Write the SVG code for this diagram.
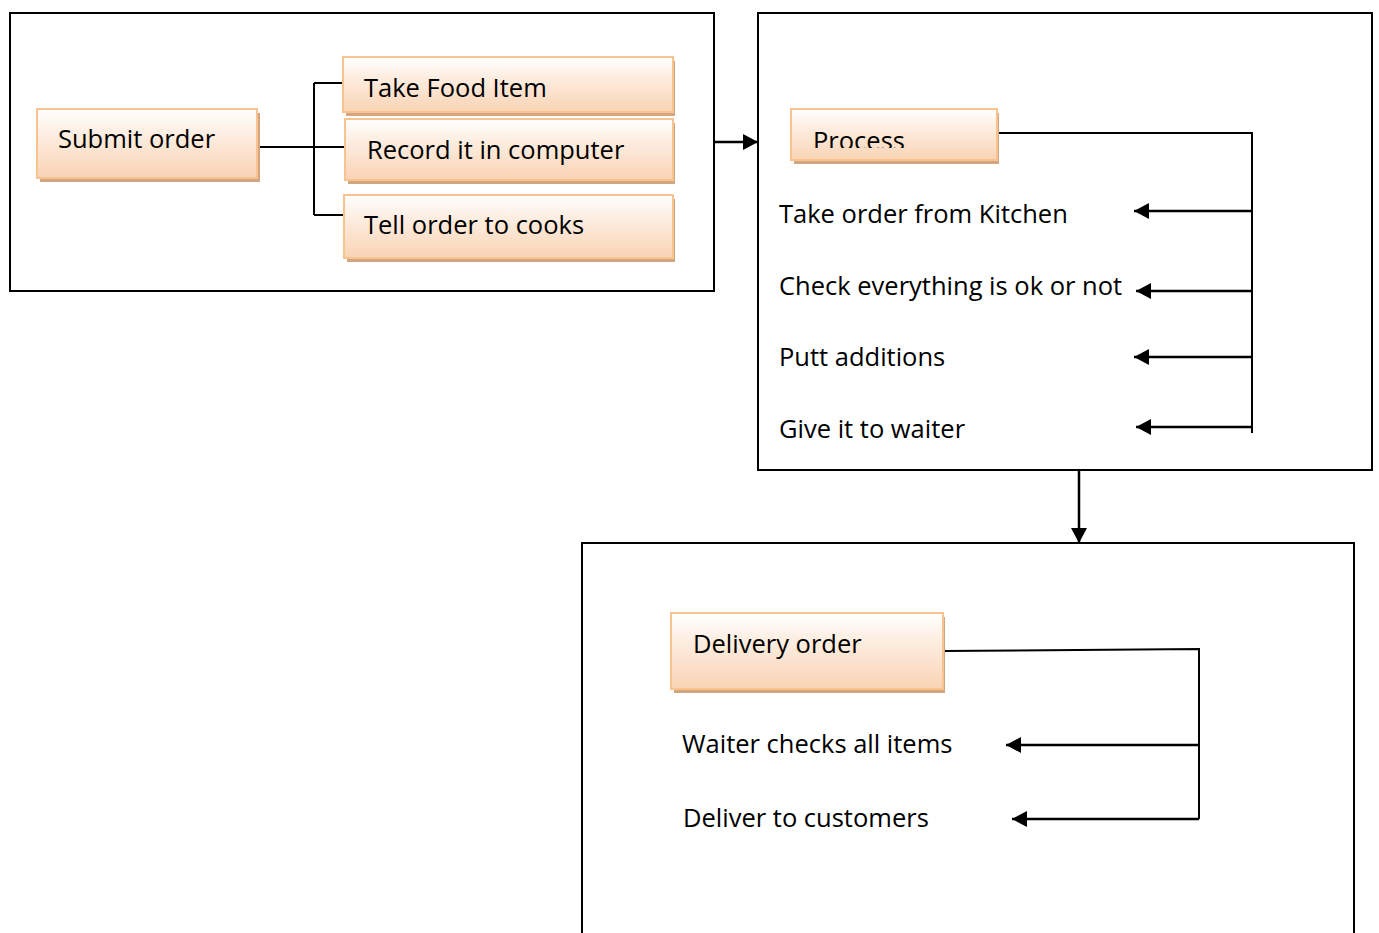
<svg xmlns="http://www.w3.org/2000/svg" width="1379" height="933" viewBox="0 0 1379 933">
  <defs>
    <linearGradient id="peach" x1="0" y1="0" x2="0" y2="1">
      <stop offset="0" stop-color="#ffffff"/>
      <stop offset="0.35" stop-color="#fdeee2"/>
      <stop offset="1" stop-color="#f9d3b4"/>
    </linearGradient>
    <marker id="head" viewBox="0 0 15 16" refX="15" refY="8" markerWidth="15" markerHeight="16" markerUnits="userSpaceOnUse" orient="auto">
      <path d="M0,0 L15,8 L0,16 Z" fill="#000"/>
    </marker>
    <clipPath id="processClip">
      <rect x="791" y="109" width="206" height="39"/>
    </clipPath>
  </defs>
  <style>
    .frame { fill: #fff; stroke: #000; stroke-width: 2; }
    .shadow { fill: #d3a67f; }
    .box { fill: url(#peach); stroke: #f9c38f; stroke-width: 2; }
    .label { font-family: "Open Sans", "Liberation Sans", sans-serif; font-size: 25.5px; fill: #000; }
    .wire { fill: none; stroke: #000; stroke-width: 2; }
    .arrow { fill: none; stroke: #000; stroke-width: 2.5; marker-end: url(#head); }
  </style>

  <rect width="1379" height="933" fill="#fff"/>

  <!-- section frames -->
  <g id="frames">
    <rect class="frame" x="10" y="13" width="704" height="278"/>
    <rect class="frame" x="758" y="13" width="614" height="457"/>
    <rect class="frame" x="582" y="543" width="772" height="400"/>
  </g>

  <!-- connectors -->
  <g id="connectors">
    <path class="wire" d="M257,147 H344 M314,83 V215 M314,83 H344 M314,215 H344"/>
    <path class="arrow" d="M714,142 H758"/>
    <path class="wire" d="M997,133 H1252 V433"/>
    <path class="arrow" d="M1252,211 H1134"/>
    <path class="arrow" d="M1253,291 H1136"/>
    <path class="arrow" d="M1252,357 H1134"/>
    <path class="arrow" d="M1252,427 H1136"/>
    <path class="arrow" d="M1079,470 V543"/>
    <path class="wire" d="M943,651 L1199,649 V819"/>
    <path class="arrow" d="M1199,745 H1006"/>
    <path class="arrow" d="M1199,819 H1012"/>
  </g>

  <!-- first stage -->
  <g id="submit-order">
    <rect class="shadow" x="40" y="113" width="220" height="69"/>
    <rect class="box" x="37" y="109" width="220" height="69"/>
    <text class="label" x="58" y="148">Submit order</text>
  </g>
  <g id="take-food-item">
    <rect class="shadow" x="346" y="61" width="329" height="55"/>
    <rect class="box" x="343" y="57" width="330" height="55"/>
    <text class="label" x="364" y="97">Take Food Item</text>
  </g>
  <g id="record-in-computer">
    <rect class="shadow" x="348" y="123" width="327" height="61"/>
    <rect class="box" x="345" y="119" width="328" height="61"/>
    <text class="label" x="367" y="159">Record it in computer</text>
  </g>
  <g id="tell-cooks">
    <rect class="shadow" x="347" y="199" width="328" height="63"/>
    <rect class="box" x="344" y="195" width="329" height="63"/>
    <text class="label" x="364" y="234">Tell order to cooks</text>
  </g>

  <!-- second stage -->
  <g id="process">
    <rect class="shadow" x="794" y="113" width="205" height="51"/>
    <rect class="box" x="791" y="109" width="206" height="51"/>
    <text class="label" x="813" y="150" clip-path="url(#processClip)">Process</text>
  </g>
  <g id="process-steps">
    <text class="label" x="779" y="223">Take order from Kitchen</text>
    <text class="label" x="779" y="295">Check everything is ok or not</text>
    <text class="label" x="779" y="366">Putt additions</text>
    <text class="label" x="779" y="438">Give it to waiter</text>
  </g>

  <!-- third stage -->
  <g id="delivery-order">
    <rect class="shadow" x="674" y="617" width="271" height="76"/>
    <rect class="box" x="671" y="613" width="272" height="76"/>
    <text class="label" x="693" y="653">Delivery order</text>
  </g>
  <g id="delivery-steps">
    <text class="label" x="682" y="753">Waiter checks all items</text>
    <text class="label" x="683" y="827">Deliver to customers</text>
  </g>
</svg>
